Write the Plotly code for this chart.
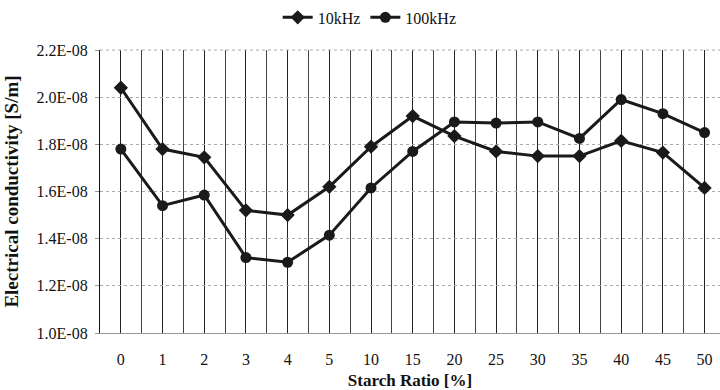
import plotly.graph_objects as go

# Starch ratio categories (%) and conductivity readings (S/m)
starch_ratio = ["0", "1", "2", "3", "4", "5", "10", "15", "20", "25", "30", "35", "40", "45", "50"]
cond_10khz = [2.04e-8, 1.78e-8, 1.745e-8, 1.52e-8, 1.50e-8, 1.62e-8, 1.79e-8, 1.92e-8,
              1.835e-8, 1.77e-8, 1.75e-8, 1.75e-8, 1.815e-8, 1.765e-8, 1.615e-8]
cond_100khz = [1.78e-8, 1.54e-8, 1.585e-8, 1.32e-8, 1.30e-8, 1.415e-8, 1.615e-8, 1.77e-8,
               1.895e-8, 1.89e-8, 1.895e-8, 1.825e-8, 1.99e-8, 1.93e-8, 1.85e-8]
y_ticks = [1.0e-8, 1.2e-8, 1.4e-8, 1.6e-8, 1.8e-8, 2.0e-8, 2.2e-8]
y_tick_text = ["1.0E-08", "1.2E-08", "1.4E-08", "1.6E-08", "1.8E-08", "2.0E-08", "2.2E-08"]

x_idx = list(range(len(starch_ratio)))
serif = "Liberation Serif"
ink = "#1a1a1a"

fig = go.Figure()
fig.add_trace(go.Scatter(
    x=x_idx, y=cond_10khz, name="10kHz", mode="lines+markers",
    line=dict(color=ink, width=3),
    marker=dict(symbol="diamond", size=11, color=ink),
))
fig.add_trace(go.Scatter(
    x=x_idx, y=cond_100khz, name="100kHz", mode="lines+markers",
    line=dict(color=ink, width=3),
    marker=dict(symbol="circle", size=11, color=ink),
))

fig.update_layout(
    width=720, height=390,
    margin=dict(l=100, r=0, t=50, b=57),
    paper_bgcolor="white", plot_bgcolor="white",
    font=dict(family=serif, size=15, color="#111"),
    showlegend=True,
    legend=dict(orientation="h", x=0.435, y=1.115, xanchor="center", yanchor="middle",
                font=dict(family=serif, size=16, color="#111"),
                itemwidth=30, tracegroupgap=0, bgcolor="rgba(0,0,0,0)"),
)

fig.update_xaxes(
    range=[-0.5, 14.37],
    tickvals=x_idx, ticktext=starch_ratio,
    showgrid=True, gridcolor="#222", gridwidth=1,
    minor=dict(tick0=0.5, dtick=1, showgrid=True, gridcolor="#444", gridwidth=1),
    showline=True, linecolor="#999", linewidth=1,
    zeroline=False, ticks="", ticklabelstandoff=12,
    tickfont=dict(family=serif, size=16, color="#111"),
    title=dict(text="<b>Starch Ratio [%]</b>", standoff=10,
               font=dict(family=serif, size=17, color="#111")),
)

fig.update_yaxes(
    range=[1.0e-8, 2.2e-8],
    tickvals=y_ticks, ticktext=y_tick_text,
    showgrid=True, gridcolor="#aaa", gridwidth=1, griddash="dot",
    showline=True, linecolor="#111", linewidth=1.2,
    zeroline=False, ticks="outside", ticklen=4, tickcolor="#999",
    ticklabelstandoff=4,
    tickfont=dict(family=serif, size=16, color="#111"),
    title=dict(text="<b>Electrical conductivity [S/m]</b>", standoff=12,
               font=dict(family=serif, size=19, color="#111")),
)

# dotted frame along the top of the plotting area
fig.add_shape(type="line", xref="paper", yref="paper", x0=0, x1=1, y0=1, y1=1,
              line=dict(color="#aaa", width=1, dash="dot"))

fig.write_html("out.html")
